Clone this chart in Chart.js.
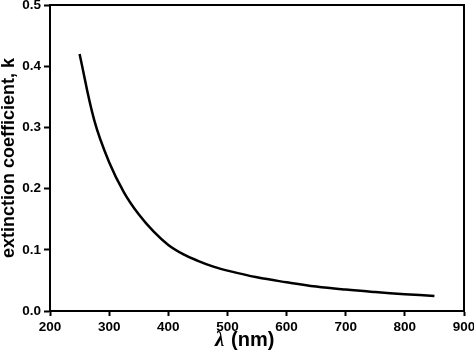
<!DOCTYPE html>
<html>
<head>
<meta charset="utf-8">
<script src="https://cdn.jsdelivr.net/npm/chart.js@4/dist/chart.umd.min.js"></script>
<style>
  html, body { margin: 0; padding: 0; background: #fff; }
  canvas { display: block; }
</style>
</head>
<body>
<canvas id="kChart" width="474" height="362"></canvas>
<script>
// wavelength (nm) and extinction coefficient
const wavelengths = [250, 275, 300, 325, 350, 375, 400, 425, 450, 475, 500, 550, 600, 650, 700, 750, 800, 850];
const kValues = [0.420, 0.311, 0.243, 0.194, 0.158, 0.130, 0.108, 0.093, 0.082, 0.073, 0.066, 0.055, 0.047, 0.040, 0.035, 0.031, 0.0275, 0.0245];
const xTicks = [200, 300, 400, 500, 600, 700, 800, 900];
const yTicks = [0.0, 0.1, 0.2, 0.3, 0.4, 0.5];

Chart.defaults.font.family = '"Liberation Sans", Arial, sans-serif';
Chart.defaults.color = '#000';

// x title has an italic lambda, so draw it in two pieces
const xTitlePlugin = {
    id: 'xTitle',
    afterDraw: function(chart) {
        const ctx = chart.ctx;
        ctx.save();
        ctx.fillStyle = '#000';
        ctx.textBaseline = 'alphabetic';
        ctx.textAlign = 'left';
        ctx.font = 'italic bold 21px "Liberation Serif", serif';
        ctx.fillText('λ', 215, 346);
        ctx.font = 'bold 20px "Liberation Sans", Arial, sans-serif';
        ctx.fillText('(nm)', 231, 346);
        ctx.restore();
    }
};

const points = wavelengths.map(function(w, i) { return { x: w, y: kValues[i] }; });

new Chart(document.getElementById('kChart'), {
    type: 'scatter',
    data: {
        datasets: [{
            data: points,
            showLine: true,
            borderColor: '#000',
            borderWidth: 2.5,
            pointRadius: 0,
            tension: 0.4,
            fill: false
        }]
    },
    options: {
        responsive: false,
        animation: false,
        layout: { padding: { top: 5, right: 10, left: 0, bottom: 0 } },
        plugins: {
            legend: { display: false },
            tooltip: { enabled: false }
        },
        scales: {
            x: {
                type: 'linear',
                position: 'bottom',
                min: 200,
                max: 900,
                afterBuildTicks: function(scale) {
                    scale.ticks = xTicks.map(function(v) { return { value: v }; });
                },
                afterFit: function(scale) {
                    scale.height = 51;
                    scale.paddingLeft = 0;
                    scale.paddingRight = 0;
                },
                ticks: {
                    font: { size: 13.5, weight: 'bold' },
                    padding: 3,
                    maxRotation: 0
                },
                grid: {
                    drawOnChartArea: false,
                    drawTicks: true,
                    tickLength: 5,
                    tickWidth: 2,
                    color: '#000'
                },
                border: { display: true, color: '#000', width: 2 }
            },
            y: {
                type: 'linear',
                position: 'left',
                min: 0,
                max: 0.5,
                afterBuildTicks: function(scale) {
                    scale.ticks = yTicks.map(function(v) { return { value: v }; });
                },
                afterFit: function(scale) {
                    scale.width = 50;
                    scale.paddingTop = 0;
                    scale.paddingBottom = 0;
                },
                ticks: {
                    font: { size: 13.5, weight: 'bold' },
                    padding: 3,
                    callback: function(v) { return v.toFixed(1); }
                },
                grid: {
                    drawOnChartArea: false,
                    drawTicks: true,
                    tickLength: 6,
                    tickWidth: 2,
                    color: '#000'
                },
                border: { display: true, color: '#000', width: 2 },
                title: {
                    display: true,
                    text: 'extinction coefficient, k',
                    font: { size: 18, weight: 'bold', lineHeight: 1 },
                    padding: 0,
                    color: '#000'
                }
            },
            xTop: {
                type: 'linear',
                position: 'top',
                min: 200,
                max: 900,
                ticks: { display: false },
                grid: { display: false, drawTicks: false },
                border: { display: true, color: '#000', width: 2 },
                afterFit: function(scale) { scale.height = 0; }
            },
            yRight: {
                type: 'linear',
                position: 'right',
                min: 0,
                max: 0.5,
                ticks: { display: false },
                grid: { display: false, drawTicks: false },
                border: { display: true, color: '#000', width: 2 },
                afterFit: function(scale) { scale.width = 0; }
            }
        }
    },
    plugins: [xTitlePlugin]
});
</script>
</body>
</html>
